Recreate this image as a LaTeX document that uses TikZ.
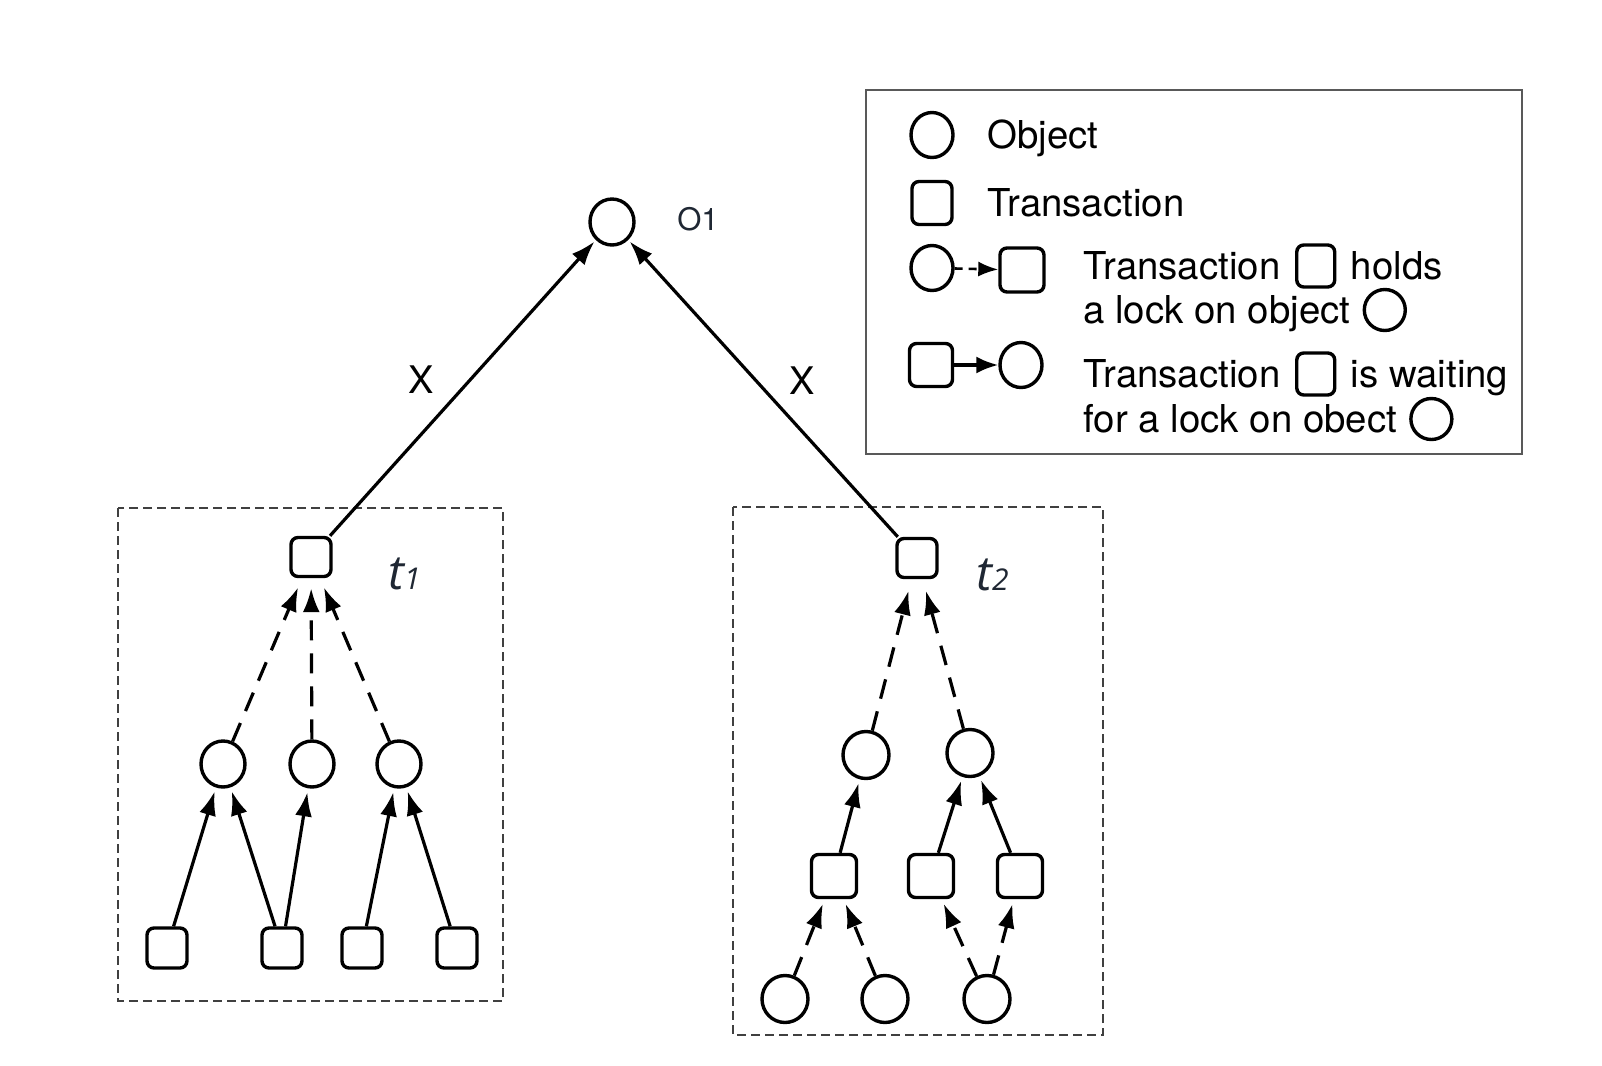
\documentclass[tikz,border=0pt]{standalone}
\usepackage{fontspec}
\setmainfont{TeX Gyre Heros}
\newfontfamily\labfont{Open Sans}
\usetikzlibrary{arrows.meta,calc,shapes.geometric}
\definecolor{lblcol}{HTML}{1F2733}
\begin{document}
\begin{tikzpicture}[x=0.5pt,y=-0.5pt,
  obj/.style={ellipse,draw,line width=1.7pt,minimum width=22pt,minimum height=23pt,inner sep=0pt},
  objb/.style={obj,minimum width=23pt,minimum height=23.5pt},
  lobj/.style={obj,minimum width=21pt,minimum height=22.5pt},
  trans/.style={rectangle,draw,line width=1.7pt,rounded corners=3.5pt,minimum width=20pt,minimum height=19.5pt,inner sep=0pt},
  transb/.style={trans,minimum width=22.5pt,minimum height=21.5pt},
  ltrans/.style={trans,minimum width=20pt,minimum height=21.5pt},
  itrans/.style={trans,minimum width=19pt,minimum height=21pt},
  iobj/.style={obj,minimum width=20.5pt,minimum height=20.5pt},
  waits/.style={line width=1.6pt,-{Latex[length=12pt,width=8.5pt]}},
  holds/.style={waits,dash pattern=on 10pt off 6.5pt},
  grp/.style={draw=black!75,line width=1.3pt,dash pattern=on 4.5pt off 2.5pt},
  txt/.style={font=\fontsize{19.2}{23}\selectfont,inner sep=0pt,anchor=base west},
  lbl/.style={font=\labfont\itshape\fontsize{24}{28}\selectfont,text=lblcol,inner sep=0pt,anchor=base west}
]
\useasboundingbox (0,0) rectangle (1602,1066);

% legend box
\draw[draw=black!65,line width=1.3pt] (866,90) rectangle (1522,454);

% group boxes
\draw[grp] (118,508) rectangle (503,1001);
\draw[grp] (733,507) rectangle (1103,1035);

% top object
\node[obj] (o1) at (612,222) {};
\node[font=\fontsize{15.5}{18}\selectfont,text=lblcol,inner sep=0pt] (o1l) at (698,219) {O1};

% t1
\node[trans] (T1) at (311,557) {};
\node[lbl] (t1l) at (388,589) {t{\fontsize{15}{17}\selectfont 1}};
\node[obj] (a1) at (223,764) {};
\node[obj] (a2) at (312,764) {};
\node[obj] (a3) at (399,764) {};
\node[trans,minimum height=20pt] (b1) at (167,948) {};
\node[trans,minimum height=20pt] (b2) at (282,948) {};
\node[trans,minimum height=20pt] (b3) at (362,948) {};
\node[trans,minimum height=20pt] (b4) at (457,948) {};

% t2
\node[trans] (T2) at (917,558) {};
\node[lbl] (t2l) at (976,590) {t{\fontsize{15}{17}\selectfont 2}};
\node[objb] (c1) at (866,755) {};
\node[objb] (c2) at (970,753) {};
\node[transb] (d1) at (834,876) {};
\node[transb] (d2) at (931,876) {};
\node[transb] (d3) at (1020,876) {};
\node[objb] (e1) at (785,999) {};
\node[objb] (e2) at (885,999) {};
\node[objb] (e3) at (987,999) {};

% X labels
\node[font=\fontsize{19}{22}\selectfont,inner sep=0pt] (x1) at (421,380) {X};
\node[font=\fontsize{19}{22}\selectfont,inner sep=0pt] (x2) at (802,381) {X};

% edges to o1
\draw[waits,shorten >=1pt] (T1) -- (o1);
\draw[waits,shorten >=1pt] (T2) -- (o1);

% t1 edges
\draw[holds,shorten >=5pt] (a1) -- (T1);
\draw[holds,shorten >=5pt] (a2) -- (T1);
\draw[holds,shorten >=5pt] (a3) -- (T1);
\draw[waits,shorten >=2pt] (b1) -- (a1);
\draw[waits,shorten >=2pt] (b2) -- (a1);
\draw[waits,shorten >=2pt] (b2) -- (a2);
\draw[waits,shorten >=2pt] (b3) -- (a3);
\draw[waits,shorten >=2pt] (b4) -- (a3);

% t2 edges
\draw[holds,shorten >=6pt] (c1) -- (T2);
\draw[holds,shorten >=6pt] (c2) -- (T2);
\draw[waits,shorten >=2pt] (d1) -- (c1);
\draw[waits,shorten >=2pt] (d2) -- (c2);
\draw[waits,shorten >=2pt] (d3) -- (c2);
\draw[holds,shorten >=2.5pt] (e1) -- (d1);
\draw[holds,shorten >=2.5pt] (e2) -- (d1);
\draw[holds,shorten >=2.5pt] (e3) -- (d2);
\draw[holds,shorten >=2.5pt] (e3) -- (d3);

% legend
\node[lobj] (L1) at (932,135) {};
\node[txt] (L1t) at (987,148) {Object};
\node[ltrans] (L2) at (932,203) {};
\node[txt] (L2t) at (987,216) {Transaction};
\node[lobj] (L3c) at (932,268) {};
\node[ltrans,minimum width=22pt,minimum height=22pt] (L3s) at (1022,270) {};
\draw[line width=1.3pt,dash pattern=on 4pt off 3pt,-{Latex[length=10pt,width=7.5pt]}] (L3c) -- (L3s);
\node[txt] (L3a) at (1083,279) {Transaction};
\node[itrans] (L3q) at ($(L3a.base east)+(35,-13)$) {};
\node[txt] (L3b) at ($(L3q.east |- L3a.base)+(14,0)$) {holds};
\node[txt] (L3d) at (1083,323) {a lock on object};
\node[iobj] (L3o) at ($(L3d.base east)+(34,-13)$) {};
\node[ltrans,minimum width=21.5pt] (L4s) at (931,365) {};
\node[lobj] (L4c) at (1021,365) {};
\draw[line width=1.6pt,-{Latex[length=11pt,width=8.5pt]}] (L4s) -- (L4c);
\node[txt] (L4a) at (1083,387) {Transaction};
\node[itrans] (L4q) at ($(L4a.base east)+(35,-13)$) {};
\node[txt] (L4b) at ($(L4q.east |- L4a.base)+(14,0)$) {is waiting};
\node[txt] (L4d) at (1083,432) {for a lock on obect};
\node[iobj] (L4o) at ($(L4d.base east)+(34,-13)$) {};
\end{tikzpicture}
\end{document}
